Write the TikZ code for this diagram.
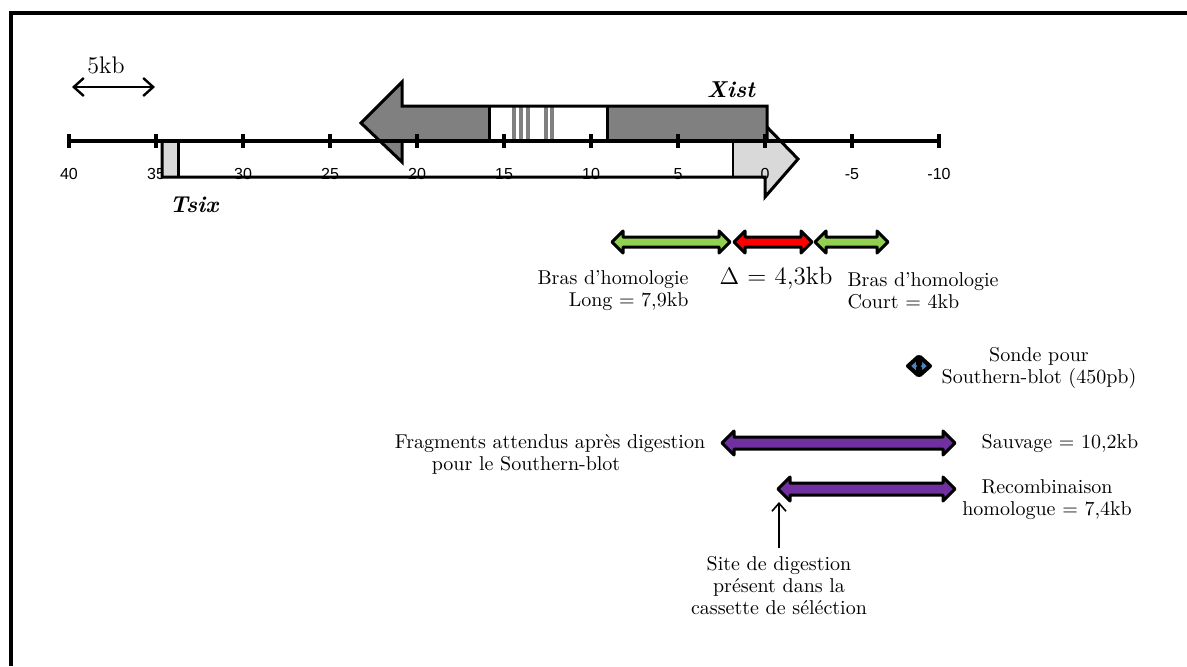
\documentclass[tikz,border=0pt]{standalone}
\usepackage{fontspec}
\newfontfamily\axisfont{Liberation Sans}
\usetikzlibrary{arrows.meta}

\definecolor{armgreen}{RGB}{146,208,80}
\definecolor{delred}{RGB}{255,0,0}
\definecolor{fragviolet}{RGB}{112,48,160}
\definecolor{probeblue}{RGB}{79,129,189}
\definecolor{genegray}{RGB}{128,128,128}
\definecolor{tsixgray}{RGB}{217,217,217}

% fat double arrow: x start, x end, y, style, half body, half head, head length
\newcommand{\fatarrow}[7]{%
  \draw[line width=1.5pt, line join=round, #4]
    (#1,#3) -- (#1+#7,#3-#6) -- (#1+#7,#3-#5) -- (#2-#7,#3-#5) -- (#2-#7,#3-#6)
    -- (#2,#3) -- (#2-#7,#3+#6) -- (#2-#7,#3+#5) -- (#1+#7,#3+#5) -- (#1+#7,#3+#6) -- cycle;}

\tikzset{
  lbl/.style={font=\fontsize{10}{11}\selectfont, inner sep=0pt},
  gene/.style={font=\fontsize{11.5}{12}\selectfont\bfseries\itshape, inner sep=0pt},
  ticklbl/.style={font=\axisfont\fontsize{8}{9}\selectfont, inner sep=0pt}
}

\begin{document}
\begin{tikzpicture}[x=0.5pt, y=-0.5pt]
    \useasboundingbox (0,0) rectangle (1187,666);
    \fill[white] (0,0) rectangle (1187,666);
    \draw[line width=2pt] (11,666) -- (11,13) -- (1187,13);

    % Tsix
    \fill[tsixgray] (733,141) -- (765,141) -- (765,125) -- (798,159) -- (765,197) -- (765,177) -- (733,177) -- cycle;
    \foreach \v in {40,35,...,-10}
        \node[ticklbl] at ({765-17.4*\v},174) {\v};
    \fill[tsixgray] (162,141) rectangle (178,177);
    \draw[line width=1.5pt, line join=miter] (162,141) -- (765,141) -- (765,125) -- (798,159) -- (765,197) -- (765,177) -- (162,177) -- cycle;
    \draw[line width=1.5pt] (178,141) -- (178,177);
    \draw[line width=1pt] (733,141) -- (733,177);
    \node[gene] (tsix) at (194,205) {Tsix};

    % Xist
    \fill[genegray] (767,106) -- (402,106) -- (402,82) -- (361,123) -- (402,162) -- (402,141) -- (767,141) -- cycle;
    \fill[white] (489,106) rectangle (607,141);
    \foreach \s in {514,521,528,546,552}
        \draw[genegray, line width=2pt] (\s,107) -- (\s,141);
    \draw[line width=1.5pt, line join=miter] (767,106) -- (402,106) -- (402,82) -- (361,123) -- (402,162) -- (402,141) -- (767,141) -- cycle;
    \draw[line width=1.5pt] (489,106) -- (489,141);
    \draw[line width=1.5pt] (607,106) -- (607,141);
    \node[gene] (xist) at (731,90) {Xist};

    % axis
    \draw[line width=2pt] (68,141) -- (938,141);
    \foreach \v in {40,35,...,-10}
        \draw[line width=2pt] ({765-17.4*\v},134) -- ({765-17.4*\v},148);

    % scale
    \coordinate (scaleL) at (72,87);
    \coordinate (scaleR) at (155,87);
    \draw[line width=1.2pt, {Straight Barb[length=5pt,width=9pt]}-{Straight Barb[length=5pt,width=9pt]}] (scaleL) -- (scaleR);
    \node[lbl, font=\fontsize{12}{13}\selectfont] (scale) at (106,65) {5kb};

    % homology arms and deletion
    \fatarrow{612}{730}{242}{fill=armgreen}{5}{11}{11}
    \fatarrow{734}{812}{242}{fill=delred}{5}{11}{11}
    \fatarrow{815}{888}{242}{fill=armgreen}{5}{11}{11}
    \node[lbl, align=right] (armlong) at (613,291) {Bras d'homologie\\Long = 7,9kb};
    \node[lbl, font=\fontsize{12.5}{13}\selectfont] (delta) at (776,278) {$\Delta$ = 4,3kb};
    \node[lbl, align=left] (armshort) at (923,291) {Bras d'homologie\\Court = 4kb};

    % probe
    \fatarrow{908}{930}{366}{fill=probeblue, line width=2pt}{2}{9}{10}
    \node[lbl, align=center] (probe) at (1039,368) {Sonde pour\\Southern-blot (450pb)};

    % Southern-blot fragments
    \fatarrow{722}{955}{443}{fill=fragviolet}{6}{12}{12}
    \fatarrow{778}{955}{489}{fill=fragviolet}{6}{12}{12}
    \node[lbl, align=center] (frag) at (550,454) {Fragments attendus après digestion\\pour le Southern-blot\hspace*{24pt}};
    \node[lbl] (wild) at (1060,443) {Sauvage = 10,2kb};
    \node[lbl, align=center] (recomb) at (1047,500) {Recombinaison\\homologue = 7,4kb};

    % digestion site
    \node[lbl, align=center] (site) at (779,586) {Site de digestion\\présent dans la\\cassette de séléction};
    \coordinate (cut) at (779,502);
    \draw[line width=0.8pt, -{Straight Barb[length=4pt,width=7pt]}] (site.north) ++(0,-8) -- (cut);
\end{tikzpicture}
\end{document}
